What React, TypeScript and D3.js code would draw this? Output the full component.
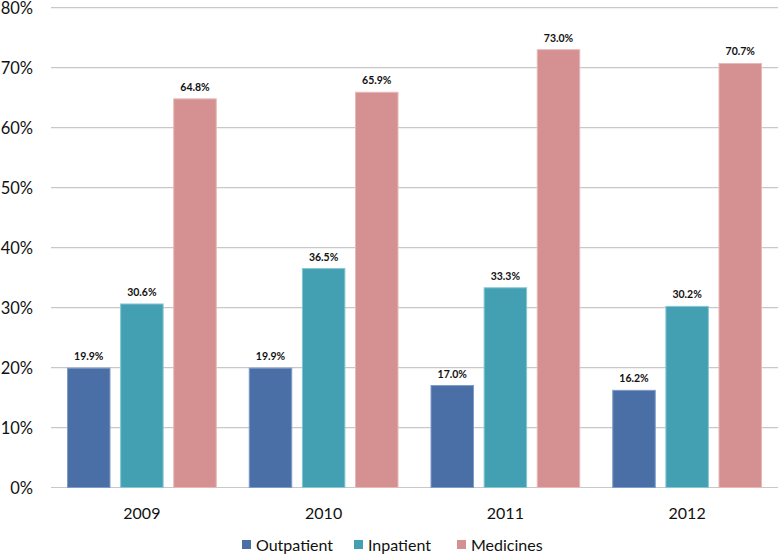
import React from "react";
import * as d3 from "d3";

const years = ["2009", "2010", "2011", "2012"];
const seriesNames = ["Outpatient", "Inpatient", "Medicines"];
const outpatient = [19.9, 19.9, 17.0, 16.2];
const inpatient = [30.6, 36.5, 33.3, 30.2];
const medicines = [64.8, 65.9, 73.0, 70.7];
const yTicks = [0, 10, 20, 30, 40, 50, 60, 70, 80];
const colors = ["#4A6FA6", "#43A0B2", "#D59191"];
const strokes = ["#7E9CC8", "#86C6D2", "#E8B8B8"];

const W = 778, H = 555;

export default function App() {
  const series = [outpatient, inpatient, medicines];
  const y = d3.scaleLinear().domain([0, 80]).range([487.5, 7.7]);
  const x0 = d3.scaleBand().domain(years).range([51, 778]).paddingInner(0).paddingOuter(0);
  const inner = d3.scaleBand().domain(seriesNames).range([16.5, x0.bandwidth() - 16.5]).paddingInner(0.2).paddingOuter(0);
  const font = "Lato, 'Open Sans', sans-serif";
  const legendX = [242, 354, 457];
  return (
    <svg width={W} height={H} style={{ position: "absolute", left: 0, top: 0, background: "#fff" }} fontFamily={font}>
      {yTicks.map((t) => (
        <g key={t}>
          <line x1={51} x2={778} y1={y(t)} y2={y(t)} stroke="#C8C8C8" strokeWidth={1.2} />
          <text x={33} y={y(t) + 6.5} textAnchor="end" fontSize={16.5} fill="#111">{t}%</text>
        </g>
      ))}
      {years.map((yr, i) => (
        <g key={yr} transform={`translate(${x0(yr)},0)`}>
          {seriesNames.map((s, j) => {
            const v = series[j][i];
            const bx = inner(s)!;
            const bw = inner.bandwidth();
            return (
              <g key={s}>
                <rect x={bx} y={y(v)} width={bw} height={y(0) - y(v)} fill={colors[j]} stroke={strokes[j]} strokeWidth={1} />
                <text x={bx + bw / 2} y={y(v) - 8} textAnchor="middle" fontSize={10.5} fontWeight="bold" fill="#111">{v.toFixed(1)}%</text>
              </g>
            );
          })}
          <text x={x0.bandwidth() / 2} y={513} dy="0.35em" textAnchor="middle" fontSize={16} fill="#111">{yr}</text>
        </g>
      ))}
      {seriesNames.map((s, j) => (
        <g key={s}>
          <rect x={legendX[j]} y={540} width={9} height={9} fill={colors[j]} />
          <text x={legendX[j] + 14} y={545} dy="0.35em" fontSize={16} fill="#111">{s}</text>
        </g>
      ))}
    </svg>
  );
}
